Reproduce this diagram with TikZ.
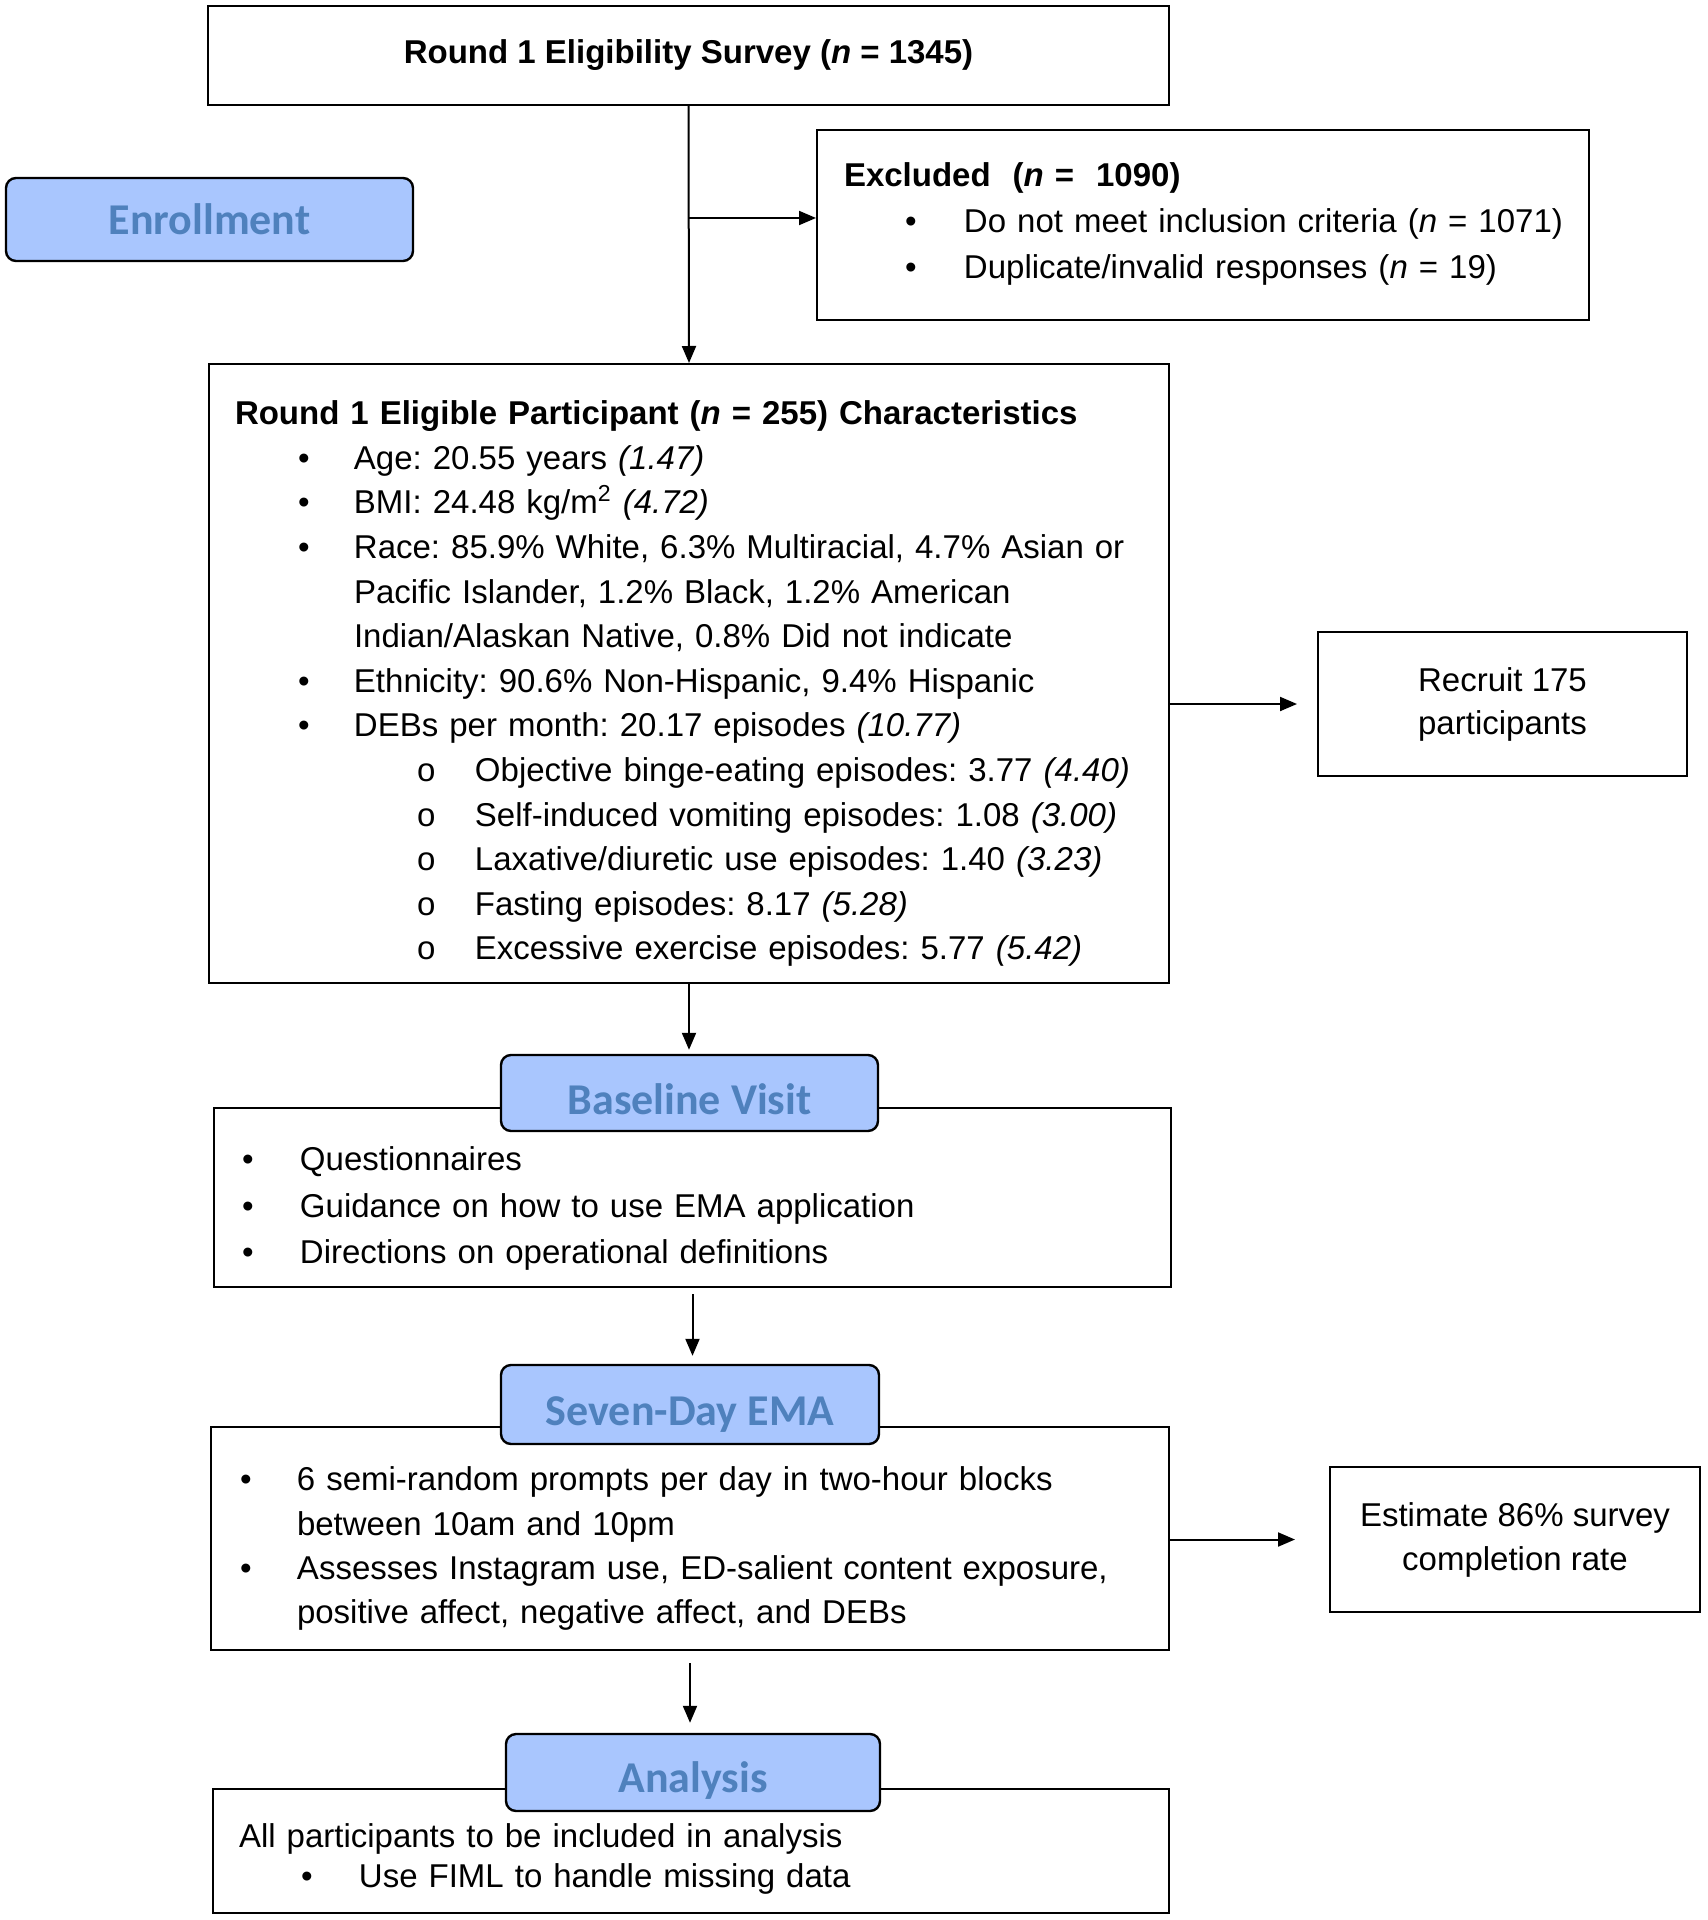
\documentclass[tikz,border=0pt]{standalone}
\usepackage{fontspec}
\setmainfont{Liberation Sans}
\newfontfamily\tabfont{Carlito}
\usetikzlibrary{arrows.meta}

\definecolor{tabfill}{RGB}{169,198,254}
\definecolor{tabtext}{RGB}{79,129,189}

\frenchspacing
\newcommand{\bodyfont}{\fontsize{16.5}{22.3}\selectfont}
% bullet lines: #1 = bullet indent, #2 = text indent
\newcommand{\firstline}{\par\leftskip=0pt\noindent}
\newcommand{\bitem}[2]{\par\leftskip=#2\noindent\llap{\hbox to \dimexpr#2-#1\relax{\textbullet\hfil}}}
\newcommand{\oitem}[2]{\par\leftskip=#2\noindent\llap{\hbox to \dimexpr#2-#1\relax{o\hfil}}}
\newcommand{\dropby}[2]{\raisebox{-#1}[\height][\depth]{#2}}

\tikzset{
  box/.style={draw, line width=1pt, inner sep=0pt, font=\bodyfont},
  tab/.style={draw, line width=1.2pt, rounded corners=5pt, fill=tabfill,
    text=tabtext, inner sep=0pt, font=\tabfont\bfseries\fontsize{22}{24}\selectfont},
  arr/.style={-{Triangle[length=8.5pt,width=7pt]}, line width=1pt}
}

\begin{document}
\begin{tikzpicture}[x=0.5pt,y=-0.5pt]
\useasboundingbox (0,0) rectangle (1707,1920);

% boxes
\node[box, align=center, minimum width=480.5pt, minimum height=49.5pt,
  font=\bodyfont\bfseries] (survey) at (688.5,55.5)
  {Round 1 Eligibility Survey (\textit{n} = 1345)};

\node[box, text width=359pt, inner xsep=13.5pt, minimum height=95pt, align=left,
  font=\fontsize{16.5}{23}\selectfont] (excl) at (1203,225) {%
  \firstline\textbf{Excluded\ \ (\textit{n} =\ \ 1090)}
  \bitem{30.5pt}{60pt}\mbox{Do not meet inclusion criteria (\textit{n} = 1071)}
  \bitem{30.5pt}{60pt}\mbox{Duplicate/invalid responses (\textit{n} = 19)}\par
  \kern12pt\hrule height 0pt};

\node[box, text width=454pt, inner xsep=13pt, minimum height=309.5pt, align=left]
  (elig) at (689,673.5) {%
  \firstline\textbf{Round 1 Eligible Participant (\textit{n} = 255) Characteristics}
  \bitem{31.5pt}{59.5pt}\mbox{Age: 20.55 years \textit{(1.47)}}
  \bitem{31.5pt}{59.5pt}\mbox{BMI: 24.48 kg/m\textsuperscript{2} \textit{(4.72)}}
  \bitem{31.5pt}{59.5pt}\mbox{Race: 85.9\% White, 6.3\% Multiracial, 4.7\% Asian or}\newline
    \mbox{Pacific Islander, 1.2\% Black, 1.2\% American}\newline
    \mbox{Indian/Alaskan Native, 0.8\% Did not indicate}
  \bitem{31.5pt}{59.5pt}\mbox{Ethnicity: 90.6\% Non-Hispanic, 9.4\% Hispanic}
  \bitem{31.5pt}{59.5pt}\mbox{DEBs per month: 20.17 episodes \textit{(10.77)}}
  \oitem{91pt}{120pt}\mbox{Objective binge-eating episodes: 3.77 \textit{(4.40)}}
  \oitem{91pt}{120pt}\mbox{Self-induced vomiting episodes: 1.08 \textit{(3.00)}}
  \oitem{91pt}{120pt}\mbox{Laxative/diuretic use episodes: 1.40 \textit{(3.23)}}
  \oitem{91pt}{120pt}\mbox{Fasting episodes: 8.17 \textit{(5.28)}}
  \oitem{91pt}{120pt}\mbox{Excessive exercise episodes: 5.77 \textit{(5.42)}}\par};

\node[box, align=center, minimum width=184.5pt, minimum height=72pt,
  font=\fontsize{16.5}{21.5}\selectfont] (recruit) at (1502.5,704)
  {Recruit 175\\participants};

\node[box, text width=445.5pt, inner xsep=16.5pt, minimum height=89.5pt, align=left,
  font=\fontsize{16.5}{23.3}\selectfont] (visit) at (692.5,1197.5) {%
  \bitem{-2.5pt}{26.5pt}\mbox{Questionnaires}
  \bitem{-2.5pt}{26.5pt}\mbox{Guidance on how to use EMA application}
  \bitem{-2.5pt}{26.5pt}\mbox{Directions on operational definitions}\par};

\node[box, text width=445pt, inner xsep=17pt, minimum height=111.5pt, align=left,
  font=\fontsize{16.5}{22.2}\selectfont] (ema) at (690,1538.5) {%
  \bitem{-2.5pt}{26pt}\mbox{6 semi-random prompts per day in two-hour blocks}\newline
    \mbox{between 10am and 10pm}
  \bitem{-2.5pt}{26pt}\mbox{Assesses Instagram use, ED-salient content exposure,}\newline
    \mbox{positive affect, negative affect, and DEBs}\par};

\node[box, align=center, minimum width=185pt, minimum height=72.5pt,
  font=\fontsize{16.5}{22}\selectfont] (estimate) at (1515,1539.5)
  {Estimate 86\% survey\\completion rate};

\node[box, text width=452pt, inner xsep=13pt, minimum height=62pt, align=left,
  font=\fontsize{16.5}{20}\selectfont] (analysis) at (691,1851) {%
  \firstline\mbox{All participants to be included in analysis}
  \bitem{31pt}{60pt}\mbox{Use FIML to handle missing data}\par};

% stage tabs
\node[tab, minimum width=203.5pt, minimum height=41.5pt] (enroll) at (209.5,219.5) {Enrollment};
\node[tab, minimum width=188.5pt, minimum height=38pt] (visittab) at (689.5,1093) {\dropby{3pt}{Baseline Visit}};
\node[tab, minimum width=189pt, minimum height=39.5pt] (ematab) at (690,1404.5) {\dropby{5pt}{Seven-Day EMA}};
\node[tab, minimum width=187pt, minimum height=38.5pt] (analysistab) at (693,1772.5) {\dropby{4pt}{Analysis}};

% connectors
\coordinate (branch) at (688.5,218);
\draw[arr] (survey.south) -- (elig.north);
\draw[arr] (branch) -- (branch -| excl.west);
\draw[arr, shorten >=10pt] (elig.east |- recruit) -- (recruit.west);
\draw[arr, shorten >=2pt] (elig.south) -- (elig.south |- visittab.north);
\draw[arr, shorten <=3pt, shorten >=4pt] (visit.south) -- (visit.south |- ematab.north);
\draw[arr, shorten >=17pt] (ema.east |- estimate) -- (estimate.west);
\draw[arr, shorten <=6pt, shorten >=5pt] (ema.south) -- (ema.south |- analysistab.north);
\end{tikzpicture}
\end{document}
